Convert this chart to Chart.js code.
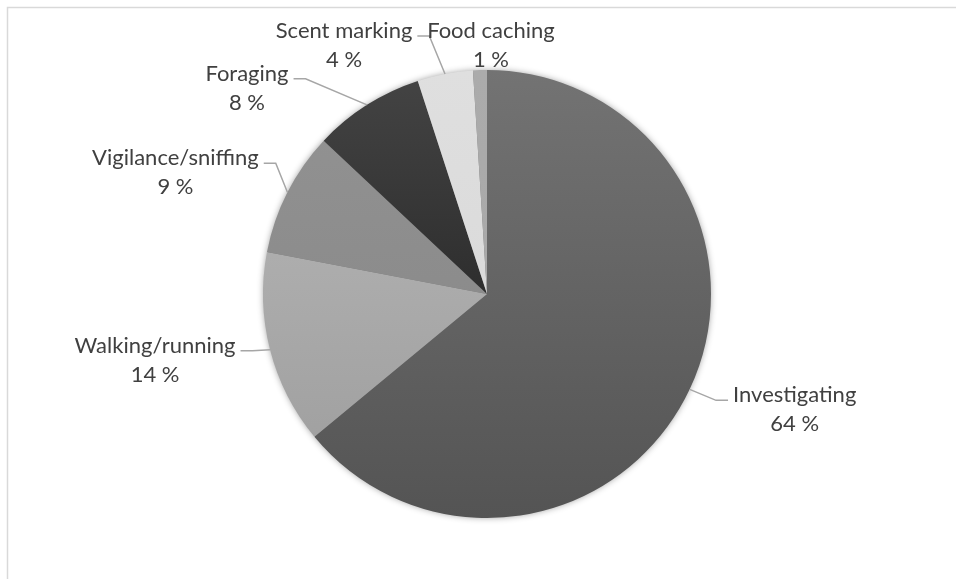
<!DOCTYPE html>
<html>
<head>
<meta charset="utf-8">
<title>Activity budget</title>
<script src="https://cdn.jsdelivr.net/npm/chart.js@4.4.1/dist/chart.umd.min.js"></script>
<style>
  html, body { margin: 0; padding: 0; background: #ffffff; }
  #wrap { position: relative; width: 956px; height: 579px; }
</style>
</head>
<body>
<div id="wrap"><canvas id="pie" width="956" height="579"></canvas></div>
<script>
// Share of observed time spent on each behaviour (%)
const behaviours = ['Investigating', 'Walking/running', 'Vigilance/sniffing', 'Foraging', 'Scent marking', 'Food caching'];
const shares = [64, 14, 9, 8, 4, 1];
const valueSuffix = ' %';

// Slice shading: lighter at the top of the pie, darker at the bottom
const shadeTop = ['#737373', '#b9b9b9', '#939393', '#444444', '#dfdfdf', '#ababab'];
const shadeBottom = ['#545454', '#9c9c9c', '#848484', '#181818', '#d6d6d6', '#a6a6a6'];

// Label placement relative to the point on the rim at each slice's middle angle
const labelOffsets = [
  { dx: 105, dy: 13, leader: true },
  { dx: -115, dy: 3, leader: true },
  { dx: -112, dy: -27, leader: true },
  { dx: -120, dy: -24, leader: true },
  { dx: -101, dy: -36, leader: true },
  { dx: 11, dy: -32, leader: false }
];

const FONT = '22px Lato, "Open Sans", sans-serif';
const TEXT_COLOR = '#404040';
const LINE_GAP = 29;

function sliceFill(ctx) {
  const chart = ctx.chart;
  const area = chart.chartArea;
  const i = ctx.dataIndex;
  if (!area) return shadeTop[i];
  const g = chart.ctx.createLinearGradient(0, area.top, 0, area.bottom);
  g.addColorStop(0, shadeTop[i]);
  g.addColorStop(1, shadeBottom[i]);
  return g;
}

// Thin frame along the top and left edges of the canvas
const framePlugin = {
  id: 'frame',
  beforeDraw(chart) {
    const c = chart.ctx;
    c.save();
    c.strokeStyle = '#d9d9d9';
    c.lineWidth = 1.5;
    c.beginPath();
    c.moveTo(7.5, chart.height);
    c.lineTo(7.5, 7.5);
    c.lineTo(chart.width, 7.5);
    c.stroke();
    c.restore();
  }
};

// Soft shadow beneath the whole pie
const shadowPlugin = {
  id: 'pieShadow',
  beforeDatasetsDraw(chart) {
    const arc = chart.getDatasetMeta(0).data[0];
    if (!arc) return;
    const c = chart.ctx;
    c.save();
    c.shadowColor = 'rgba(0,0,0,0.45)';
    c.shadowBlur = 7;
    c.fillStyle = '#7a7a7a';
    c.beginPath();
    c.arc(arc.x, arc.y, arc.outerRadius - 1, 0, Math.PI * 2);
    c.fill();
    c.restore();
  }
};

// Two-line category labels with grey leader lines
const labelPlugin = {
  id: 'outsideLabels',
  afterDatasetsDraw(chart) {
    const meta = chart.getDatasetMeta(0);
    const c = chart.ctx;
    c.save();
    c.font = FONT;
    c.fillStyle = TEXT_COLOR;
    c.textAlign = 'center';
    c.textBaseline = 'alphabetic';
    meta.data.forEach((arc, i) => {
      const mid = (arc.startAngle + arc.endAngle) / 2;
      const ax = arc.x + Math.cos(mid) * arc.outerRadius;
      const ay = arc.y + Math.sin(mid) * arc.outerRadius;
      const off = labelOffsets[i];
      const tx = ax + off.dx;
      const ty = ay + off.dy;
      const name = chart.data.labels[i];
      const val = chart.data.datasets[0].data[i] + valueSuffix;
      c.fillText(name, tx, ty);
      c.fillText(val, tx, ty + LINE_GAP);
      if (off.leader) {
        const w = c.measureText(name).width;
        const right = off.dx > 0 ? false : true;
        const edge = right ? tx + w / 2 + 5 : tx - w / 2 - 5;
        const elbow = right ? edge + 12 : edge - 12;
        const ly = ty - 2;
        c.save();
        c.strokeStyle = '#a6a6a6';
        c.lineWidth = 1.5;
        c.beginPath();
        c.moveTo(ax, ay);
        c.lineTo(elbow, ly);
        c.lineTo(edge, ly);
        c.stroke();
        c.restore();
      }
    });
    c.restore();
  }
};

new Chart(document.getElementById('pie'), {
  type: 'pie',
  data: {
    labels: behaviours,
    datasets: [{
      data: shares,
      backgroundColor: sliceFill,
      borderWidth: 0
    }]
  },
  options: {
    responsive: false,
    animation: false,
    layout: { padding: { left: 263, right: 245, top: 70, bottom: 61 } },
    plugins: {
      legend: { display: false },
      tooltip: { enabled: false }
    }
  },
  plugins: [framePlugin, shadowPlugin, labelPlugin]
});
</script>
</body>
</html>
